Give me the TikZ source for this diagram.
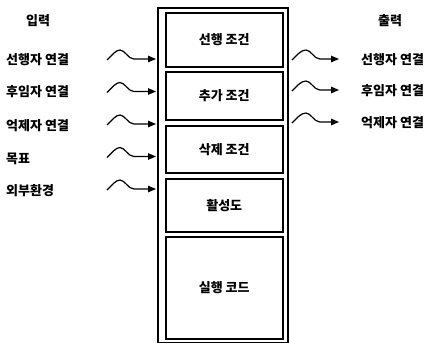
\documentclass[tikz,border=0pt]{standalone}
\usepackage{fontspec}
\setmainfont{Noto Sans CJK KR}
\usetikzlibrary{arrows.meta}
\begin{document}
\begin{tikzpicture}[x=1pt,y=-1pt,
  lbl/.style={font=\bfseries\fontsize{13}{15}\selectfont, inner sep=0pt},
  part/.style={draw, line width=1.5pt, minimum width=117pt, anchor=north west,
    font=\bfseries\fontsize{13}{15}\selectfont, inner sep=0pt},
  wave/.style={line width=1.2pt, -{Triangle[length=8pt,width=6.5pt]}}]
\useasboundingbox (0,0) rectangle (437,343);
% outer container
\node[draw, line width=1.5pt, minimum width=130pt, minimum height=335pt,
  anchor=north west, inner sep=0pt] (outer) at (157,7) {};
% inner parts
\node[part, minimum height=54pt] (b1) at (165,12) {선행 조건};
\node[part, minimum height=48pt] (b2) at (165,71) {추가 조건};
\node[part, minimum height=47pt] (b3) at (165,125) {삭제 조건};
\node[part, minimum height=53pt] (b4) at (165,178) {활성도};
\node[part, minimum height=102pt] (b5) at (165,236) {실행 코드};
% headings
\node[lbl] (in) at (38,21) {입력};
\node[lbl] (out) at (390,21) {출력};
% input labels
\node[lbl, anchor=west] (i1) at (6,60) {선행자 연결};
\node[lbl, anchor=west] (i2) at (6,92) {후임자 연결};
\node[lbl, anchor=west] (i3) at (6,126) {억제자 연결};
\node[lbl, anchor=west] (i4) at (6,159) {목표};
\node[lbl, anchor=west] (i5) at (6,191) {외부환경};
% output labels
\node[lbl, anchor=west] (o1) at (361,60) {선행자 연결};
\node[lbl, anchor=west] (o2) at (361,91) {후임자 연결};
\node[lbl, anchor=west] (o3) at (361,123) {억제자 연결};
% input waves
\foreach \y/\n in {59/1,91.5/2,124/3,156.5/4,189/5} {
  \coordinate (ls\n) at (107,\y+1);
  \coordinate (le\n) at (156,\y);
  \draw[wave] (ls\n) .. controls (112,\y-4) and (116,\y-9) .. (120,\y-9)
    .. controls (125,\y-9) and (128,\y) .. (134,\y) -- (le\n);
}
% output waves
\foreach \y/\n in {59/1,90/2,122/3} {
  \coordinate (rs\n) at (292,\y+1);
  \coordinate (re\n) at (339,\y);
  \draw[wave] (rs\n) .. controls (297,\y-4) and (301,\y-9) .. (306,\y-9)
    .. controls (311,\y-9) and (314,\y) .. (320,\y) -- (re\n);
}
\end{tikzpicture}
\end{document}
